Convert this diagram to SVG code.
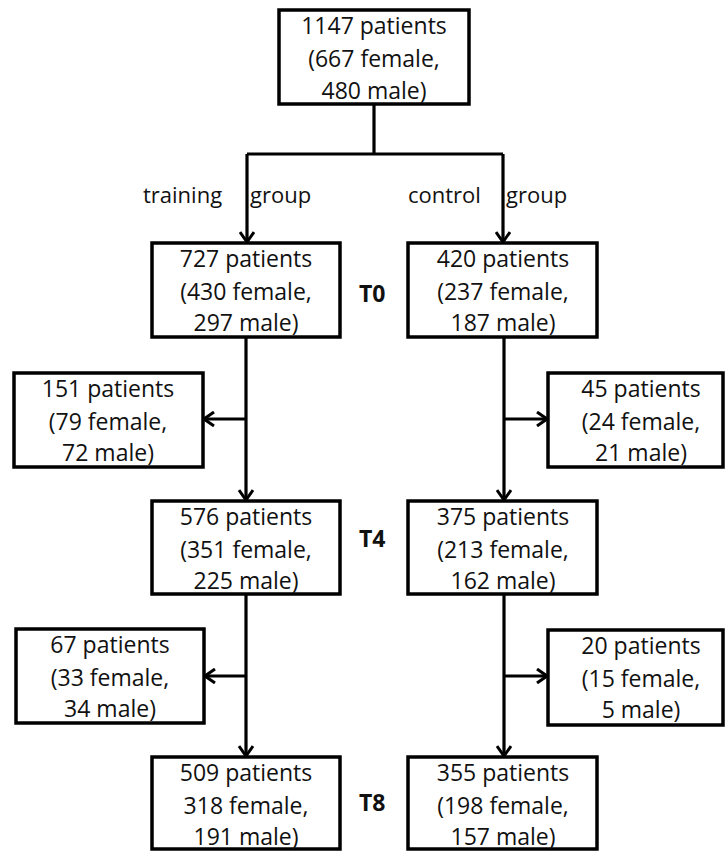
<svg xmlns="http://www.w3.org/2000/svg" width="725" height="851" viewBox="0 0 725 851">
<style>
.box{fill:#fff;stroke:#000;stroke-width:3.5}
.t{font-family:"Open Sans","Liberation Sans",sans-serif;font-size:23px;fill:#111;text-anchor:middle}
.lbl{font-family:"Open Sans","Liberation Sans",sans-serif;font-size:22px;fill:#111}
.tp{font-family:"Open Sans","Liberation Sans",sans-serif;font-size:23px;font-weight:bold;fill:#111}
.c{fill:none;stroke:#000;stroke-width:3.2}
</style>
<defs>
<marker id="ah" viewBox="0 0 12 16" refX="11" refY="8" markerWidth="12" markerHeight="16" orient="auto" markerUnits="userSpaceOnUse">
<path d="M1,1 L11,8 L1,15" fill="none" stroke="#000" stroke-width="3"/>
</marker>
</defs>
<rect width="725" height="851" fill="#fff"/>
<g id="connectors">
<path class="c" d="M374,104 V154"/>
<path class="c" d="M247,154 H503"/>
<path class="c" d="M247,154 V242" marker-end="url(#ah)"/>
<path class="c" d="M503,154 V242" marker-end="url(#ah)"/>
<path class="c" d="M246,337 V500" marker-end="url(#ah)"/>
<path class="c" d="M246,419 H204" marker-end="url(#ah)"/>
<path class="c" d="M504,337 V500" marker-end="url(#ah)"/>
<path class="c" d="M504,419 H547" marker-end="url(#ah)"/>
<path class="c" d="M246,594 V756" marker-end="url(#ah)"/>
<path class="c" d="M246,676 H205" marker-end="url(#ah)"/>
<path class="c" d="M504,594 V756" marker-end="url(#ah)"/>
<path class="c" d="M504,676 H547" marker-end="url(#ah)"/>
</g>
<g id="labels">
<text class="lbl" x="143" y="203">training</text>
<text class="lbl" x="250" y="203">group</text>
<text class="lbl" x="408" y="203">control</text>
<text class="lbl" x="506" y="203">group</text>
<text class="tp" x="359" y="302">T0</text>
<text class="tp" x="359" y="547">T4</text>
<text class="tp" x="359" y="811">T8</text>
</g>
<g id="n_all">
<rect class="box" x="279" y="10" width="190" height="94"/>
<text class="t" x="374" y="34">1147 patients</text>
<text class="t" x="374" y="67">(667 female,</text>
<text class="t" x="374" y="99">480 male)</text>
</g>
<g id="n_train_t0">
<rect class="box" x="152" y="243" width="188" height="94"/>
<text class="t" x="246" y="267">727 patients</text>
<text class="t" x="246" y="300">(430 female,</text>
<text class="t" x="246" y="331">297 male)</text>
</g>
<g id="n_ctrl_t0">
<rect class="box" x="408" y="243" width="189" height="94"/>
<text class="t" x="503" y="267">420 patients</text>
<text class="t" x="503" y="300">(237 female,</text>
<text class="t" x="503" y="331">187 male)</text>
</g>
<g id="n_train_drop1">
<rect class="box" x="14" y="373" width="189" height="94"/>
<text class="t" x="108" y="397">151 patients</text>
<text class="t" x="108" y="430">(79 female,</text>
<text class="t" x="108" y="461">72 male)</text>
</g>
<g id="n_ctrl_drop1">
<rect class="box" x="548" y="373" width="175" height="94"/>
<text class="t" x="641" y="397">45 patients</text>
<text class="t" x="641" y="430">(24 female,</text>
<text class="t" x="641" y="461">21 male)</text>
</g>
<g id="n_train_t4">
<rect class="box" x="152" y="501" width="188" height="93"/>
<text class="t" x="246" y="525">576 patients</text>
<text class="t" x="246" y="558">(351 female,</text>
<text class="t" x="246" y="589">225 male)</text>
</g>
<g id="n_ctrl_t4">
<rect class="box" x="408" y="501" width="189" height="93"/>
<text class="t" x="503" y="525">375 patients</text>
<text class="t" x="503" y="558">(213 female,</text>
<text class="t" x="503" y="589">162 male)</text>
</g>
<g id="n_train_drop2">
<rect class="box" x="16" y="629" width="188" height="94"/>
<text class="t" x="110" y="653">67 patients</text>
<text class="t" x="110" y="686">(33 female,</text>
<text class="t" x="110" y="717">34 male)</text>
</g>
<g id="n_ctrl_drop2">
<rect class="box" x="548" y="630" width="175" height="95"/>
<text class="t" x="641" y="654">20 patients</text>
<text class="t" x="641" y="687">(15 female,</text>
<text class="t" x="641" y="718">5 male)</text>
</g>
<g id="n_train_t8">
<rect class="box" x="152" y="757" width="188" height="92"/>
<text class="t" x="246" y="781">509 patients</text>
<text class="t" x="246" y="814">318 female,</text>
<text class="t" x="246" y="845">191 male)</text>
</g>
<g id="n_ctrl_t8">
<rect class="box" x="408" y="757" width="189" height="92"/>
<text class="t" x="503" y="781">355 patients</text>
<text class="t" x="503" y="814">(198 female,</text>
<text class="t" x="503" y="845">157 male)</text>
</g>
</svg>
